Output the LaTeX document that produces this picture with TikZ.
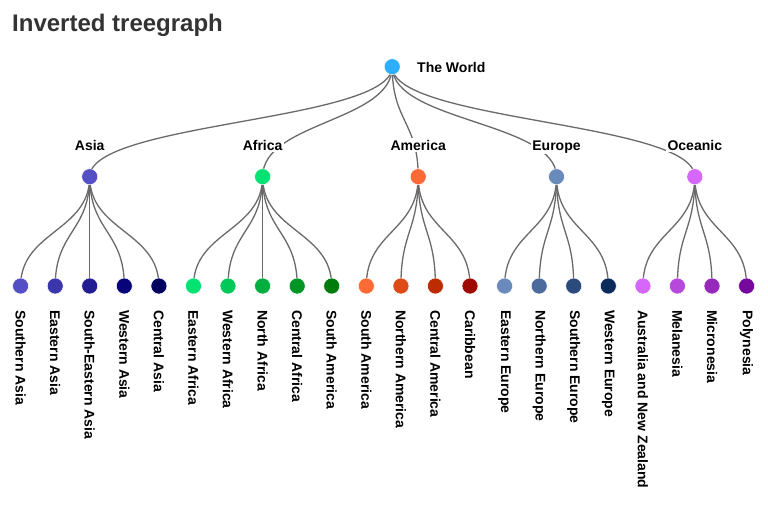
\documentclass[tikz,border=0pt]{standalone}
\usepackage{fontspec}
\setmainfont{Liberation Sans}
\usetikzlibrary{calc}
\pgfdeclarelayer{bglayer}
\pgfdeclarelayer{linklayer}
\pgfsetlayers{bglayer,linklayer,main}
\definecolor{titlegray}{HTML}{333333}
\definecolor{linkgray}{HTML}{6A6A6A}
\definecolor{rootc}{HTML}{2CAFFE}
\definecolor{asia0}{RGB}{84,79,197}
\definecolor{asia1}{RGB}{59,54,172}
\definecolor{asia2}{RGB}{33,28,146}
\definecolor{asia3}{RGB}{8,3,121}
\definecolor{asia4}{RGB}{0,0,95}
\definecolor{afr0}{RGB}{0,226,114}
\definecolor{afr1}{RGB}{0,201,89}
\definecolor{afr2}{RGB}{0,175,63}
\definecolor{afr3}{RGB}{0,150,38}
\definecolor{afr4}{RGB}{0,124,12}
\definecolor{ame0}{RGB}{254,106,53}
\definecolor{ame1}{RGB}{223,75,22}
\definecolor{ame2}{RGB}{191,43,0}
\definecolor{ame3}{RGB}{159,11,0}
\definecolor{eur0}{RGB}{107,138,188}
\definecolor{eur1}{RGB}{76,107,157}
\definecolor{eur2}{RGB}{44,75,125}
\definecolor{eur3}{RGB}{12,43,93}
\definecolor{oce0}{RGB}{213,104,251}
\definecolor{oce1}{RGB}{182,73,220}
\definecolor{oce2}{RGB}{150,41,188}
\definecolor{oce3}{RGB}{118,9,156}
\begin{document}
\begin{tikzpicture}[x=1pt,y=-1pt,
  dot/.style={circle,minimum size=16pt,inner sep=0pt,draw=white,line width=0.5pt,fill=#1},
  link/.style={draw=linkgray,line width=1.3pt},
  lvllabel/.style={font=\fontsize{14}{16}\selectfont\bfseries,fill=white,inner sep=1.5pt,anchor=base},
  leaflabel/.style={font=\fontsize{14}{16}\selectfont\bfseries,rotate=-90,anchor=west,inner sep=0pt}]
\begin{pgfonlayer}{bglayer}
\fill[white] (0,0) rectangle (768,512);
\end{pgfonlayer}
\useasboundingbox (0,0) rectangle (768,512);
\node[anchor=base west,font=\fontsize{24}{28}\selectfont\bfseries,text=titlegray,inner sep=0pt] (title) at (12,31) {Inverted treegraph};
\coordinate (m1) at (0,121.7);
\coordinate (m2) at (0,231.3);
% root
\node[dot=rootc] (root) at (392.2,66.7) {};
\node[font=\fontsize{14}{16}\selectfont\bfseries,anchor=base west,inner sep=0pt] (rootlab) at (417,72) {The World};
% level 1
\foreach \n/\x/\col/\txt in {asia/89.7/asia0/Asia,africa/262.6/afr0/Africa,america/418.2/ame0/America,europe/556.5/eur0/Europe,oceanic/694.8/oce0/Oceanic}{
  \node[dot=\col] (\n) at (\x,176.7) {};
  \node[lvllabel] (\n lab) at (\x,150) {\txt};
  \begin{pgfonlayer}{linklayer}
  \draw[link] (root.center) .. controls (root.center |- m1) and (\n.center |- m1) .. (\n.center);
  \end{pgfonlayer}
}
% leaves
\foreach \i/\x/\p/\col/\txt in {
  0/20.6/asia/asia0/Southern Asia,
  1/55.2/asia/asia1/Eastern Asia,
  2/89.7/asia/asia2/South-Eastern Asia,
  3/124.3/asia/asia3/Western Asia,
  4/158.9/asia/asia4/Central Asia,
  5/193.5/africa/afr0/Eastern Africa,
  6/228.0/africa/afr1/Western Africa,
  7/262.6/africa/afr2/North Africa,
  8/297.2/africa/afr3/Central Africa,
  9/331.7/africa/afr4/South America,
  10/366.3/america/ame0/South America,
  11/400.9/america/ame1/Northern America,
  12/435.4/america/ame2/Central America,
  13/470.0/america/ame3/Caribbean,
  14/504.6/europe/eur0/Eastern Europe,
  15/539.2/europe/eur1/Northern Europe,
  16/573.7/europe/eur2/Southern Europe,
  17/608.3/europe/eur3/Western Europe,
  18/642.9/oceanic/oce0/Australia and New Zealand,
  19/677.4/oceanic/oce1/Melanesia,
  20/712.0/oceanic/oce2/Micronesia,
  21/746.6/oceanic/oce3/Polynesia}{
  \node[dot=\col] (leaf\i) at (\x,286) {};
  \node[leaflabel] (leaflab\i) at (\x,310) {\txt};
  \begin{pgfonlayer}{linklayer}
  \draw[link] (\p.center) .. controls (\p.center |- m2) and (leaf\i.center |- m2) .. (leaf\i.center);
  \end{pgfonlayer}
}
\end{tikzpicture}
\end{document}
